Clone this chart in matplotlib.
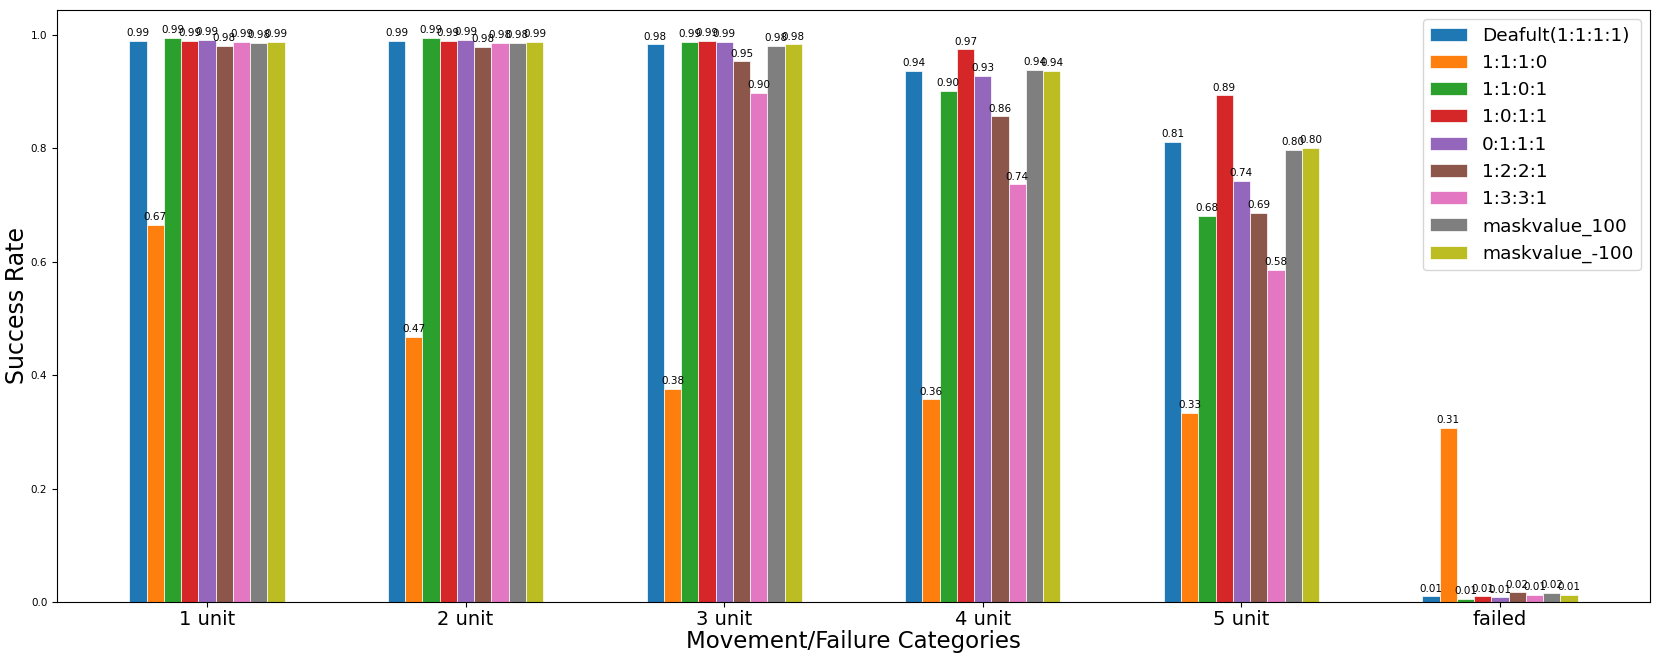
import numpy as np
import matplotlib.pyplot as plt

# categories and series
categories = ['1 unit', '2 unit', '3 unit', '4 unit', '5 unit', 'failed']
series_names = ['Deafult(1:1:1:1)', '1:1:1:0', '1:1:0:1', '1:0:1:1', '0:1:1:1',
                '1:2:2:1', '1:3:3:1', 'maskvalue_100', 'maskvalue_-100']

default_1111 = [0.989, 0.989, 0.983, 0.936, 0.811, 0.010]
r_1110 = [0.665, 0.467, 0.376, 0.357, 0.333, 0.307]
r_1101 = [0.994, 0.994, 0.987, 0.901, 0.680, 0.005]
r_1011 = [0.989, 0.989, 0.989, 0.974, 0.893, 0.010]
r_0111 = [0.991, 0.991, 0.987, 0.927, 0.742, 0.008]
r_1221 = [0.981, 0.979, 0.953, 0.856, 0.686, 0.017]
r_1331 = [0.987, 0.985, 0.897, 0.736, 0.585, 0.013]
mask_100 = [0.985, 0.985, 0.981, 0.938, 0.797, 0.016]
mask_m100 = [0.987, 0.987, 0.983, 0.936, 0.800, 0.013]

all_series = [default_1111, r_1110, r_1101, r_1011, r_0111, r_1221, r_1331, mask_100, mask_m100]

x = np.arange(len(categories))
width = 0.6 / len(all_series)

fig, ax = plt.subplots(figsize=(16.61, 6.64), dpi=100)
for i, (name, vals) in enumerate(zip(series_names, all_series)):
    bars = ax.bar(x + (i - 4) * width, vals, width, label=name, edgecolor='white', linewidth=0.5)
    ax.bar_label(bars, fmt='%.2f', padding=2, fontsize=7.5)

ax.set_xticks(x)
ax.set_xticklabels(categories, fontsize=14)
ax.tick_params(axis='x', pad=2)
ax.tick_params(axis='y', labelsize=7.5)
ax.set_xlabel('Movement/Failure Categories', fontsize=16.5, labelpad=1)
ax.set_ylabel('Success Rate', fontsize=17, labelpad=1)
ax.legend(fontsize=13.3, loc='upper right')

plt.subplots_adjust(left=0.0343, right=0.9934, top=0.985, bottom=0.0934)
plt.savefig('out.png')
